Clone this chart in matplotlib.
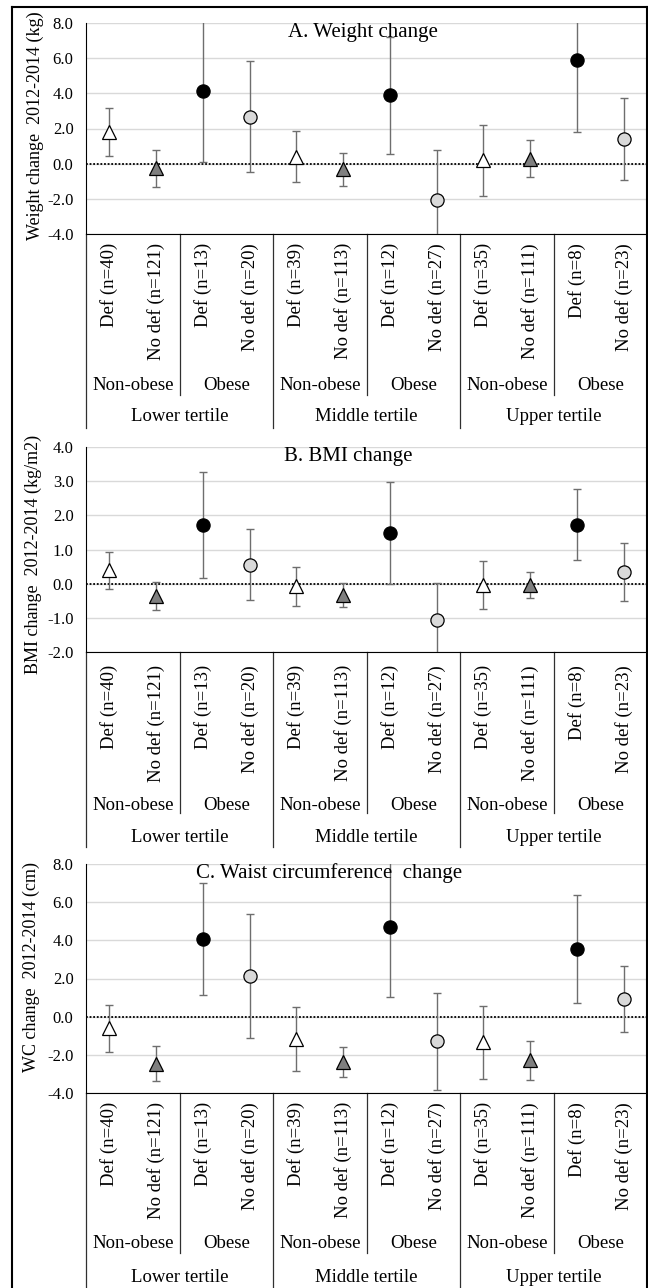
import matplotlib
matplotlib.use("Agg")
import matplotlib.pyplot as plt
import matplotlib.transforms as mtransforms
import numpy as np

#%% Data
categories = ["Def (n=40)", "No def (n=121)", "Def (n=13)", "No def (n=20)",
              "Def (n=39)", "No def (n=113)", "Def (n=12)", "No def (n=27)",
              "Def (n=35)", "No def (n=111)", "Def (n=8)", "No def (n=23)"]
subgroups = ["Non-obese", "Obese", "Non-obese", "Obese", "Non-obese", "Obese"]
tertiles = ["Lower tertile", "Middle tertile", "Upper tertile"]

weight_mean = [1.80, -0.27, 4.13, 2.68, 0.40, -0.33, 3.90, -2.04, 0.20, 0.27, 5.90, 1.39]
weight_err = [1.35, 1.05, 4.03, 3.15, 1.45, 0.96, 3.33, 2.80, 2.02, 1.05, 4.08, 2.32]

bmi_mean = [0.39, -0.37, 1.71, 0.56, -0.08, -0.33, 1.48, -1.07, -0.04, -0.04, 1.72, 0.33]
bmi_err = [0.55, 0.41, 1.55, 1.05, 0.57, 0.34, 1.49, 1.09, 0.71, 0.37, 1.04, 0.85]

wc_mean = [-0.62, -2.46, 4.07, 2.13, -1.18, -2.38, 4.70, -1.29, -1.35, -2.29, 3.53, 0.95]
wc_err = [1.24, 0.91, 2.96, 3.26, 1.67, 0.80, 3.67, 2.53, 1.91, 1.03, 2.83, 1.73]

#%% Figure settings
plt.rcParams['font.family'] = ['Liberation Serif', 'DejaVu Serif']
W, H = 648, 1288
fig = plt.figure(figsize=(W/100, H/100), dpi=100)

# marker style cycles over Def non-obese / No def non-obese / Def obese / No def obese
styles = [dict(marker='^', mfc='white'), dict(marker='^', mfc='#7f7f7f'),
          dict(marker='o', mfc='black'), dict(marker='o', mfc='#d9d9d9')]

# panel layout in pixels (from top of figure)
panels = [
    dict(mean=weight_mean, err=weight_err, ylim=(-4, 8), step=2,
         title="A. Weight change", tx=363, ty=32,
         ylabel="Weight change  2012-2014 (kg)", lx=35, ly=126,
         top=23, bot=234, lab=243, sub_y=385, sub_end=395, ter_y=417, ter_end=428),
    dict(mean=bmi_mean, err=bmi_err, ylim=(-2, 4), step=1,
         title="B. BMI change", tx=348, ty=456,
         ylabel="BMI change  2012-2014 (kg/m2)", lx=33, ly=554,
         top=447, bot=652, lab=665, sub_y=805, sub_end=813, ter_y=837, ter_end=847),
    dict(mean=wc_mean, err=wc_err, ylim=(-4, 8), step=2,
         title="C. Waist circumference  change", tx=329, ty=873,
         ylabel="WC change  2012-2014 (cm)", lx=31, ly=967,
         top=864, bot=1093, lab=1102, sub_y=1244, sub_end=1253, ter_y=1277, ter_end=1290),
]

x_left, x_right = 86, 647
x = np.arange(len(categories))

def fy(py):
    return 1 - py / H

for p in panels:
    ax = fig.add_axes([x_left/W, fy(p['bot']), (x_right - x_left)/W, (p['bot'] - p['top'])/H])
    ax.set_xlim(-0.5, len(categories) - 0.5)
    ax.set_ylim(*p['ylim'])
    ticks = np.arange(p['ylim'][0], p['ylim'][1] + 0.01, p['step'])
    ax.set_yticks(ticks, labels=[f"{t:.1f}" for t in ticks])
    ax.set_xticks([])
    ax.tick_params(axis='y', length=0, pad=9, labelsize=12)
    ax.grid(axis='y', color='#d9d9d9', lw=1)
    ax.set_axisbelow(True)
    for s in ['top', 'right']:
        ax.spines[s].set_visible(False)
    ax.spines['left'].set_color('black')
    ax.spines['bottom'].set_color('black')
    ax.axhline(0, color='black', ls=(0, (1, 1)), lw=1.3, zorder=2)

    ax.errorbar(x, p['mean'], yerr=p['err'], fmt='none', ecolor='#6e6e6e',
                elinewidth=1, capsize=3, capthick=1, zorder=3)
    for k, st in enumerate(styles):
        idx = x[k::4]
        ax.plot(idx, np.array(p['mean'])[k::4], ls='none', ms=9.5, mec='black',
                mew=0.9, zorder=4, **st)

    fig.text(p['tx']/W, fy(p['ty']), p['title'], fontsize=15, ha='center', va='center')
    fig.text(p['lx']/W, fy(p['ly']), p['ylabel'], fontsize=13,
             rotation=90, ha='center', va='center')

    trans = mtransforms.blended_transform_factory(ax.transData, fig.transFigure)
    # category labels
    for i, c in enumerate(categories):
        ax.text(i, fy(p['lab']), c, transform=trans, rotation=90, ha='center',
                va='top', fontsize=13.5)
    # sub-group labels and separators
    for j, g in enumerate(subgroups):
        ax.text(2*j + 0.5, fy(p['sub_y']), g, transform=trans, ha='center',
                va='center', fontsize=13.5)
    for j in range(3):
        ax.plot([4*j + 1.5]*2, [fy(p['bot']), fy(p['sub_end'])], transform=trans,
                color='#303030', lw=0.9, clip_on=False)
    for j, t in enumerate(tertiles):
        ax.text(4*j + 1.5, fy(p['ter_y']), t, transform=trans, ha='center',
                va='center', fontsize=13.5)
    for j in range(4):
        ax.plot([4*j - 0.5]*2, [fy(p['bot']), fy(p['ter_end'])], transform=trans,
                color='#303030', lw=0.9, clip_on=False)

# outer frame
for xs, ys in [([12, 12], [7, H + 2]), ([12, 647], [7, 7]), ([647, 647], [7, H + 2])]:
    fig.add_artist(plt.Line2D([v/W for v in xs], [fy(v) for v in ys],
                              transform=fig.transFigure, color='black', lw=1.5))

fig.savefig("out.png", dpi=100)
